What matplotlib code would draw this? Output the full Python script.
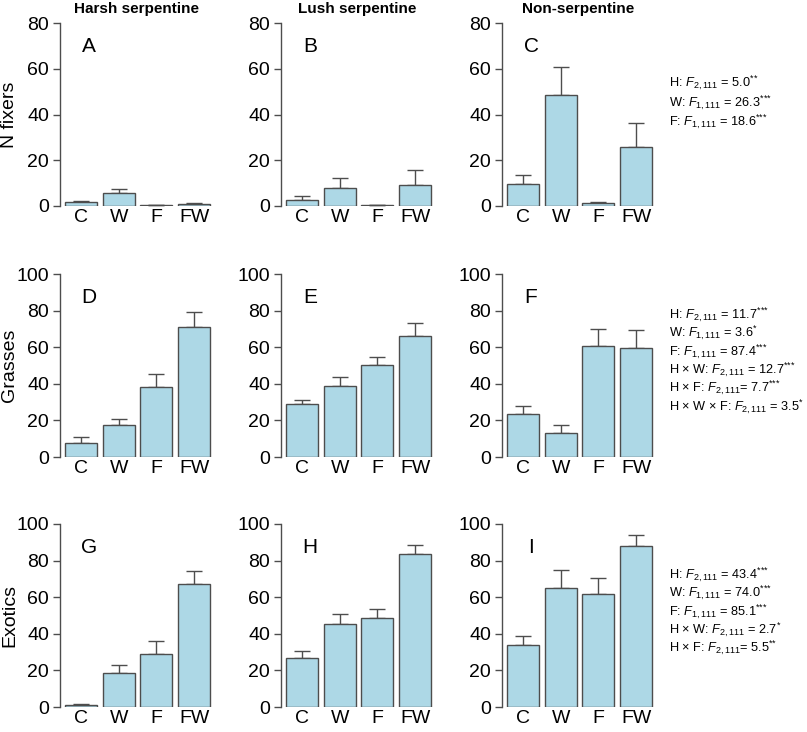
import matplotlib
matplotlib.use("Agg")
import matplotlib.pyplot as plt

plt.rcParams["font.family"] = ["Liberation Sans", "DejaVu Sans"]
plt.rcParams["mathtext.fontset"] = "custom"
plt.rcParams["mathtext.rm"] = "Liberation Sans"
plt.rcParams["mathtext.it"] = "Liberation Sans:italic"

treatments = ["C", "W", "F", "FW"]
sites = ["Harsh serpentine", "Lush serpentine", "Non-serpentine"]
groups = ["N fixers", "Grasses", "Exotics"]
panel_letters = [["A", "B", "C"], ["D", "E", "F"], ["G", "H", "I"]]
ymax = [80, 100, 100]

# mean values, per group then per site (C, W, F, FW)
nfix_mean = [[1.6, 5.5, 0.3, 0.9], [2.7, 8.0, 0.3, 9.3], [9.7, 48.6, 1.2, 25.7]]
nfix_se = [[0.5, 1.9, 0.2, 0.6], [1.6, 4.2, 0.1, 6.4], [4.0, 12.2, 0.4, 10.8]]
grass_mean = [[7.8, 17.7, 38.5, 71.2], [28.8, 38.7, 50.4, 66.1], [23.7, 13.1, 60.4, 59.5]]
grass_se = [[3.3, 3.1, 7.1, 8.2], [2.6, 4.9, 4.0, 7.3], [4.2, 4.2, 9.7, 10.0]]
exot_mean = [[1.1, 18.8, 29.2, 67.2], [27.0, 45.3, 48.5, 83.6], [34.1, 64.8, 61.7, 87.8]]
exot_se = [[0.5, 4.2, 6.9, 7.3], [3.5, 5.6, 5.0, 5.1], [4.9, 10.0, 8.9, 6.0]]

means = [nfix_mean, grass_mean, exot_mean]
ses = [nfix_se, grass_se, exot_se]

# (label, df subscript, F value, stars)
stats_nfix = [("H: ", "2,111", " = 5.0", "**"),
              ("W: ", "1,111", " = 26.3", "***"),
              ("F: ", "1,111", " = 18.6", "***")]
stats_grass = [("H: ", "2,111", " = 11.7", "***"),
               ("W: ", "1,111", " = 3.6", "*"),
               ("F: ", "1,111", " = 87.4", "***"),
               ("H × W: ", "2,111", " = 12.7", "***"),
               ("H × F: ", "2,111", "= 7.7", "***"),
               ("H × W × F: ", "2,111", " = 3.5", "*")]
stats_exot = [("H: ", "2,111", " = 43.4", "***"),
              ("W: ", "1,111", " = 74.0", "***"),
              ("F: ", "1,111", " = 85.1", "***"),
              ("H × W: ", "2,111", " = 2.7", "*"),
              ("H × F: ", "2,111", "= 5.5", "**")]
stats = [stats_nfix, stats_grass, stats_exot]


def stat_label(parts):
    lab, sub, val, stars = parts
    star_tex = "".join("{*}" for _ in stars)
    return lab + r"$F_{" + sub + "}$" + val + r"$^{" + star_tex + "}$"


W, H = 807, 732
fig = plt.figure(figsize=(W / 100, H / 100), dpi=100)

gray = "#4d4d4d"
col_left = [60, 281, 502]
row_bottom = [206, 457, 707]
ax_w, ax_h = 153, 183
stat_top = [83, 315, 575]
stat_step = [19.5, 18.3, 18.3]
x = list(range(len(treatments)))

for r in range(3):
    for c in range(3):
        ax = fig.add_axes([col_left[c] / W, (H - row_bottom[r]) / H, ax_w / W, ax_h / H])
        m = means[r][c]
        e = ses[r][c]
        ax.bar(x, m, width=0.85, color="#add8e6", edgecolor=gray, linewidth=1.0, zorder=2)
        ax.errorbar(x, m, yerr=[[0] * 4, e], fmt="none", ecolor=gray,
                    elinewidth=1.0, capsize=6, capthick=1.0, zorder=1)
        ax.set_xlim(-0.557, 3.5)
        ax.set_ylim(0, ymax[r])
        ax.set_yticks(range(0, ymax[r] + 1, 20))
        ax.set_xticks(x)
        ax.set_xticklabels(treatments)
        for s in ["top", "right", "bottom"]:
            ax.spines[s].set_visible(False)
        ax.spines["left"].set_color(gray)
        ax.spines["left"].set_linewidth(1.0)
        ax.tick_params(axis="y", direction="out", length=5, width=1.0, color=gray,
                       labelsize=14, pad=3)
        ax.tick_params(axis="x", length=0, labelsize=14, pad=2)
        ax.text(0.19, 0.87, panel_letters[r][c], transform=ax.transAxes,
                fontsize=15, ha="center", va="center")
        if r == 0:
            fig.text((col_left[c] + ax_w / 2) / W, 1 - 9 / H, sites[c],
                     fontsize=11, fontweight="bold", ha="center", va="center")
    fig.text(10 / W, 1 - (row_bottom[r] - ax_h / 2) / H, groups[r], rotation=90,
             fontsize=14, ha="center", va="center")
    for i, s in enumerate(stats[r]):
        fig.text(669 / W, 1 - (stat_top[r] + i * stat_step[r]) / H, stat_label(s),
                 fontsize=9.2, ha="left", va="center")

fig.savefig("out.png", dpi=100)
